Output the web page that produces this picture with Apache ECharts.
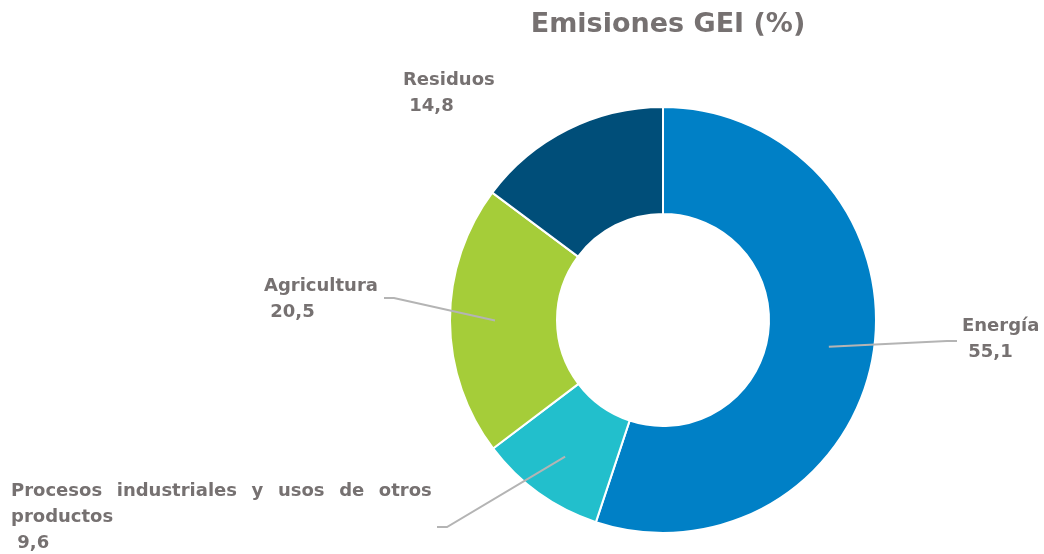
<!DOCTYPE html>
<html>
<head>
<meta charset="utf-8">
<script src="https://cdn.jsdelivr.net/npm/echarts@6/dist/echarts.min.js"></script>
<style>
    html, body {margin: 0; padding: 0; background: #fff;}
    #chart {width: 1044px; height: 554px;}
</style>
</head>
<body>
<div id="chart"></div>
<script>
// Emisiones GEI por sector (%)
const categories = ['Energía', 'Procesos industriales y usos de otros productos', 'Agricultura', 'Residuos'];
const values = [55.1, 9.6, 20.5, 14.8];
const colors = ['#0080c6', '#22bfcc', '#a5cd39', '#004e79'];

// donde va cada etiqueta (esquina sup. izq.), donde termina su línea guía
// y cuántas palabras van en la primera línea (texto justificado)
const labelPos = [
    {x: 962, y: 313, end: [957, 341]},
    {x: 11, y: 478, end: [437, 527], firstLine: 6},
    {x: 264, y: 273, end: [384, 298]},
    {x: 403, y: 67, end: null}
];

const textColor = '#767171';
const cx = 663, cy = 320;

const chart = echarts.init(document.getElementById('chart'));

const pieData = categories.map(function (name, i) {
    return {name: name, value: values[i], itemStyle: {color: colors[i]}};
});

const labelData = categories.map(function (name, i) {
    const item = {name: name, value: values[i]};
    if (!labelPos[i].end) {
        item.labelLine = {show: false};
    }
    return item;
});

const option = {
    title: {
        text: 'Emisiones GEI (%)',
        left: cx,
        top: 6,
        textAlign: 'center',
        textStyle: {
            fontFamily: 'DejaVu Sans',
            fontWeight: 'bold',
            fontSize: 27,
            color: textColor
        }
    },
    animation: false,
    series: [
        {
            type: 'pie',
            z: 1,
            center: [cx, cy],
            radius: [106, 213],
            startAngle: 90,
            clockwise: true,
            silent: true,
            itemStyle: {borderColor: '#fff', borderWidth: 2},
            label: {show: false},
            labelLine: {show: false},
            data: pieData
        },
        {
            // serie transparente, solo para las etiquetas (la línea sale desde el centro del anillo)
            type: 'pie',
            z: 5,
            center: [cx, cy],
            radius: [0, 168],
            startAngle: 90,
            clockwise: true,
            silent: true,
            itemStyle: {color: 'rgba(0,0,0,0)'},
            label: {
                show: true,
                position: 'outside',
                fontFamily: 'DejaVu Sans',
                fontWeight: 'bold',
                fontSize: 18,
                lineHeight: 26,
                color: textColor,
                formatter: function (p) {
                    let name = p.name;
                    const n = labelPos[p.dataIndex].firstLine;
                    if (n) {
                        const words = name.split(' ');
                        name = words.slice(0, n).join('{s| }') + '\n' + words.slice(n).join(' ');
                    }
                    return name + '\n ' + String(p.value).replace('.', ',');
                },
                rich: {
                    s: {
                        width: 14.6,
                        fontFamily: 'DejaVu Sans',
                        fontWeight: 'bold',
                        fontSize: 18,
                        lineHeight: 26
                    }
                }
            },
            labelLine: {
                show: true,
                lineStyle: {color: '#b4b4b4', width: 2}
            },
            labelLayout: function (params) {
                const pos = labelPos[params.dataIndex];
                const res = {x: pos.x, y: pos.y, align: 'left', verticalAlign: 'top'};
                if (pos.end && params.labelLinePoints) {
                    const start = params.labelLinePoints[0];
                    const dir = pos.end[0] > start[0] ? 1 : -1;
                    res.labelLinePoints = [
                        start,
                        [pos.end[0] - dir * 10, pos.end[1]],
                        pos.end
                    ];
                }
                return res;
            },
            data: labelData
        }
    ]
};

chart.setOption(option);
</script>
</body>
</html>
